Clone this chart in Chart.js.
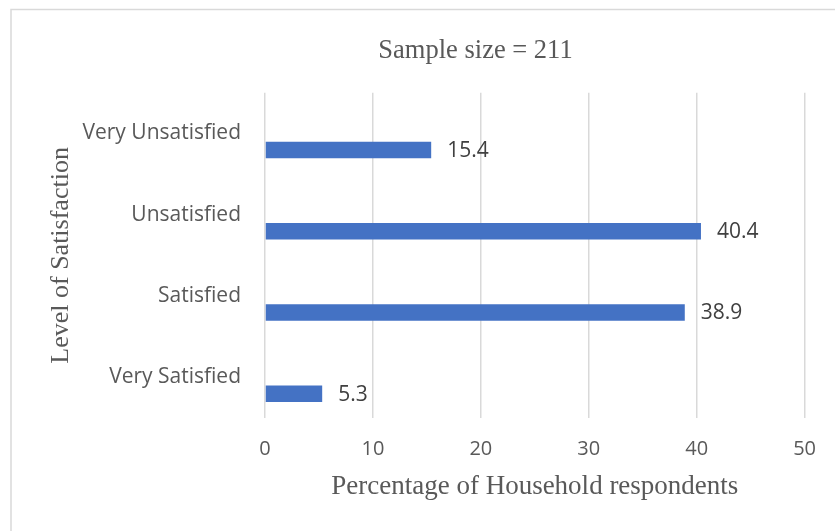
<!DOCTYPE html>
<html>
<head>
<meta charset="utf-8">
<script src="https://cdn.jsdelivr.net/npm/chart.js@4/dist/chart.umd.min.js"></script>
<style>
  html, body { margin: 0; padding: 0; background: #fff; }
  canvas { display: block; }
</style>
</head>
<body>
<canvas id="chart" width="835" height="531"></canvas>
<script>
// data
const categories = ['Very Unsatisfied', 'Unsatisfied', 'Satisfied', 'Very Satisfied'];
const percentages = [15.4, 40.4, 38.9, 5.3];
const emptySlot = [null, null, null, null]; // Excel chart had an empty 2nd series

const serif = 'Liberation Serif';
const sans = 'Open Sans';
const grey = '#595959';

// light frame round the chart (top + left edges are visible)
const framePlugin = {
  id: 'frame',
  beforeDraw(chart) {
    const ctx = chart.ctx;
    ctx.save();
    ctx.strokeStyle = '#d9d9d9';
    ctx.lineWidth = 1.5;
    ctx.beginPath();
    ctx.moveTo(11, chart.height);
    ctx.lineTo(11, 9.5);
    ctx.lineTo(chart.width, 9.5);
    ctx.stroke();
    ctx.restore();
  }
};

// the original title sits right of the canvas centre
const shiftTitle = {
  id: 'shiftTitle',
  afterLayout(chart) {
    if (chart.titleBlock) chart.titleBlock.left += 146;
  }
};

// value labels at the end of each bar
const valueLabels = {
  id: 'valueLabels',
  afterDatasetsDraw(chart) {
    const ctx = chart.ctx;
    const meta = chart.getDatasetMeta(1);
    ctx.save();
    ctx.font = '21px "' + sans + '"';
    ctx.fillStyle = '#404040';
    ctx.textAlign = 'left';
    ctx.textBaseline = 'middle';
    meta.data.forEach((bar, i) => {
      ctx.fillText(percentages[i].toFixed(1), bar.x + 16, bar.y + 1);
    });
    ctx.restore();
  }
};

const ctx = document.getElementById('chart').getContext('2d');
new Chart(ctx, {
  type: 'bar',
  data: {
    labels: categories,
    datasets: [
      { data: emptySlot, backgroundColor: '#ED7D31' },
      { data: percentages, backgroundColor: '#4472C4' }
    ]
  },
  options: {
    indexAxis: 'y',
    responsive: false,
    animation: false,
    categoryPercentage: 0.81,
    barPercentage: 0.5,
    layout: { padding: { top: 0, right: 30, bottom: 0, left: 0 } },
    plugins: {
      legend: { display: false },
      tooltip: { enabled: false },
      title: {
        display: true,
        text: 'Sample size = 211',
        color: grey,
        font: { family: serif, size: 26.5, weight: 'normal' },
        padding: { top: 35, bottom: 26 }
      }
    },
    scales: {
      x: {
        min: 0,
        max: 50,
        ticks: { stepSize: 10, color: grey, padding: 19, font: { family: sans, size: 20 } },
        grid: { color: '#d9d9d9', lineWidth: 1.5, drawTicks: false },
        border: { display: false },
        title: {
          display: true,
          text: 'Percentage of Household respondents',
          color: grey,
          font: { family: serif, size: 27, weight: 'normal' },
          padding: { top: 0, bottom: 28 }
        },
        afterFit(s) { s.height = 113; }
      },
      y: {
        ticks: { color: grey, padding: 16, font: { family: sans, size: 21 } },
        grid: { display: false },
        border: { display: false },
        title: {
          display: true,
          text: 'Level of Satisfaction',
          color: grey,
          font: { family: serif, size: 26, weight: 'normal' },
          padding: { top: 46, bottom: 0 }
        },
        afterFit(s) { s.width = 265; }
      }
    }
  },
  plugins: [framePlugin, shiftTitle, valueLabels]
});
</script>
</body>
</html>
